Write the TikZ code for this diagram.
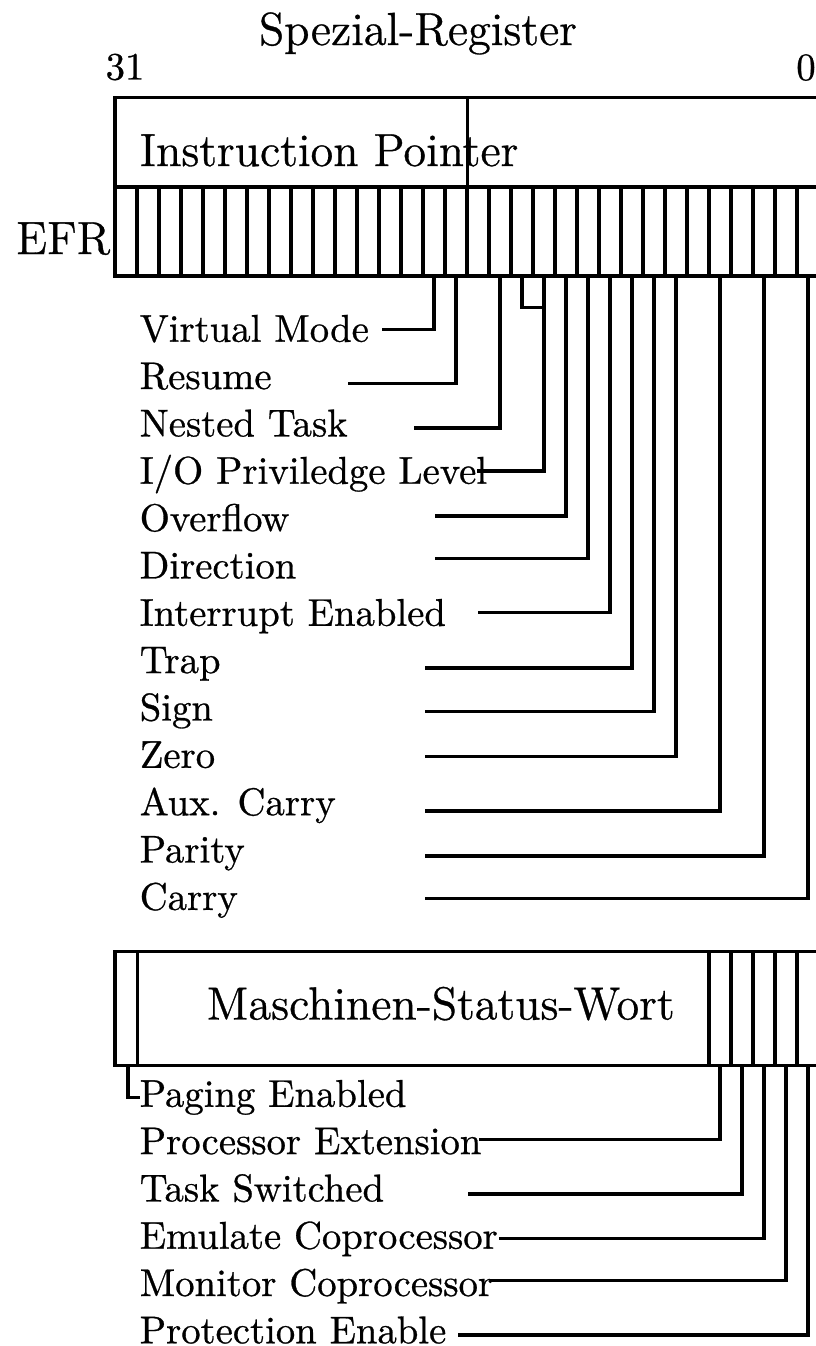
\documentclass[tikz,border=0pt]{standalone}
\usepackage{fontspec}
\newfontfamily\lmten{lmroman10-regular.otf}[FakeBold=0.7]
\newfontfamily\lmtwelve{lmroman12-regular.otf}[FakeBold=0.7]
\begin{document}
\begin{tikzpicture}[x=0.2584pt,y=-0.2584pt,
  reg/.style={line width=0.85pt},
  conn/.style={line width=0.85pt},
  lbl/.style={anchor=base west,inner sep=0pt,font=\lmten\fontsize{10}{12}\selectfont},
  ttl/.style={inner sep=0pt,font=\lmtwelve\fontsize{12}{14}\selectfont},
  num/.style={anchor=base,inner sep=0pt,font=\lmten\fontsize{10}{12}\selectfont}]
\useasboundingbox (0,0) rectangle (815,1346);

% titles
\node[ttl,anchor=base] (title) at (418,45) {Spezial-Register};
\node[num] (n31) at (125,79.5) {31};
\node[num] (n0) at (806,80) {0};

% upper register
\draw[reg] (115,97.5) rectangle (819,276);
\draw[reg] (115,187) -- (819,187);
\draw[reg] (467.5,97.5) -- (467.5,187);
\foreach \i in {1,...,31} \draw[reg] ({115+22*\i},187) -- ({115+22*\i},276);
\node[ttl,anchor=base west] (ip) at (139,166) {Instruction Pointer};
\node[ttl,anchor=base east] (efr) at (111,254) {EFR};

% bit bottom coordinates of EFR
\foreach \b in {0,...,31} \coordinate (e\b) at ({115+22*(31-\b)+11},276);

% EFR labels
\node[lbl] (lvm) at (139,341.7) {Virtual Mode};
\node[lbl] (lrf) at (139,389.0) {Resume};
\node[lbl] (lnt) at (139,436.4) {Nested Task};
\node[lbl] (lio) at (139,483.7) {I/O Priviledge Level};
\node[lbl] (lof) at (139,531.1) {Overflow};
\node[lbl] (ldf) at (139,578.4) {Direction};
\node[lbl] (lif) at (139,625.8) {Interrupt Enabled};
\node[lbl] (ltf) at (139,673.1) {Trap};
\node[lbl] (lsf) at (139,720.5) {Sign};
\node[lbl] (lzf) at (139,767.8) {Zero};
\node[lbl] (laf) at (139,815.2) {Aux. Carry};
\node[lbl] (lpf) at (139,862.5) {Parity};
\node[lbl] (lcf) at (139,909.9) {Carry};

% line ends
\coordinate (hvm) at (382,329.3);
\coordinate (hrf) at (347.6,383.3);
\coordinate (hnt) at (413.5,428);
\coordinate (hio) at (477,471);
\coordinate (hof) at (435,516);
\coordinate (hdf) at (435,558.3);
\coordinate (hif) at (478,612.7);
\coordinate (htf) at (425,668);
\coordinate (hsf) at (425,711.7);
\coordinate (hzf) at (425,756.7);
\coordinate (haf) at (425,811);
\coordinate (hpf) at (425,856);
\coordinate (hcf) at (425,898.3);
\coordinate (iojoin) at (544,307.7);

\draw[conn] (e17) |- (hvm);
\draw[conn] (e16) |- (hrf);
\draw[conn] (e14) |- (hnt);
\draw[conn] (e13) |- (iojoin);
\draw[conn] (e12) |- (hio);
\draw[conn] (e11) |- (hof);
\draw[conn] (e10) |- (hdf);
\draw[conn] (e9) |- (hif);
\draw[conn] (e8) |- (htf);
\draw[conn] (e7) |- (hsf);
\draw[conn] (e6) |- (hzf);
\draw[conn] (e4) |- (haf);
\draw[conn] (e2) |- (hpf);
\draw[conn] (e0) |- (hcf);

% machine status word
\draw[reg] (115,951.5) rectangle (819,1065.5);
\draw[reg] (137.5,951.5) -- (137.5,1065.5);
\foreach \i in {27,...,31} \draw[reg] ({115+22*\i},951.5) -- ({115+22*\i},1065.5);
\node[ttl,anchor=base west] (msw) at (206,1019.5) {Maschinen-Status-Wort};

\coordinate (m31) at (128,1065.5);
\foreach \b in {0,...,4} \coordinate (m\b) at ({115+22*(31-\b)+11},1065.5);

\node[lbl] (lpg) at (139,1106.8) {Paging Enabled};
\node[lbl] (let) at (139,1154.1) {Processor Extension};
\node[lbl] (lts) at (139,1201.4) {Task Switched};
\node[lbl] (lem) at (139,1248.7) {Emulate Coprocessor};
\node[lbl] (lmp) at (139,1296.0) {Monitor Coprocessor};
\node[lbl] (lpe) at (139,1343.3) {Protection Enable};

\coordinate (hpg) at (140,1097.3);
\coordinate (het) at (478.5,1139.3);
\coordinate (hts) at (468.4,1194);
\coordinate (hem) at (499,1238.3);
\coordinate (hmp) at (490,1280.7);
\coordinate (hpe) at (458,1335);

\draw[conn] (m31) |- (hpg);
\draw[conn] (m4) |- (het);
\draw[conn] (m3) |- (hts);
\draw[conn] (m2) |- (hem);
\draw[conn] (m1) |- (hmp);
\draw[conn] (m0) |- (hpe);
\end{tikzpicture}
\end{document}
